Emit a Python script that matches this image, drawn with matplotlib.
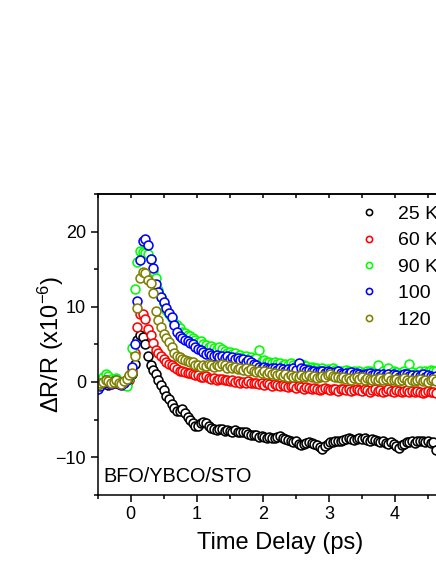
import matplotlib
matplotlib.use("Agg")
import matplotlib.pyplot as plt
from matplotlib.ticker import MultipleLocator

plt.rcParams['font.family'] = ['Liberation Sans', 'DejaVu Sans']
plt.rcParams['mathtext.default'] = 'regular'

time_delay = [
    -0.50, -0.46, -0.42, -0.38, -0.34, -0.30, -0.26, -0.22, -0.18, -0.14,
    -0.10, -0.06, -0.02, 0.02, 0.06, 0.10, 0.14, 0.18, 0.22, 0.26,
    0.30, 0.34, 0.38, 0.42, 0.46, 0.50, 0.54, 0.58, 0.62, 0.66,
    0.70, 0.74, 0.78, 0.82, 0.86, 0.90, 0.94, 0.98, 1.02, 1.06,
    1.10, 1.14, 1.18, 1.22, 1.26, 1.30, 1.34, 1.38, 1.42, 1.46,
    1.50, 1.54, 1.58, 1.62, 1.66, 1.70, 1.74, 1.78, 1.82, 1.86,
    1.90, 1.94, 1.98, 2.02, 2.06, 2.10, 2.14, 2.18, 2.22, 2.26,
    2.30, 2.34, 2.38, 2.42, 2.46, 2.50, 2.54, 2.58, 2.62, 2.66,
    2.70, 2.74, 2.78, 2.82, 2.86, 2.90, 2.94, 2.98, 3.02, 3.06,
    3.10, 3.14, 3.18, 3.22, 3.26, 3.30, 3.34, 3.38, 3.42, 3.46,
    3.50, 3.54, 3.58, 3.62, 3.66, 3.70, 3.74, 3.78, 3.82, 3.86,
    3.90, 3.94, 3.98, 4.02, 4.06, 4.10, 4.14, 4.18, 4.22, 4.26,
    4.30, 4.34, 4.38, 4.42, 4.46, 4.50, 4.54, 4.58, 4.62]

dr_25K = [
    -0.3, -0.1, 0.2, -0.2, -0.4, -0.1, 0.2, -0.2, -0.3, 0.0,
    -0.2, 0.1, 0.4, 1.0, 2.4, 5.6, 6.2, 6.0, 5.0, 3.4,
    2.2, 1.6, 1.0, 0.3, -0.4, -1.1, -1.9, -2.3, -2.9, -3.5,
    -3.8, -3.9, -3.6, -4.1, -4.7, -5.1, -5.5, -5.9, -5.8, -5.4,
    -5.3, -5.5, -5.8, -6.1, -6.3, -6.4, -6.2, -6.3, -6.5, -6.4,
    -6.5, -6.6, -6.4, -6.7, -6.6, -6.7, -6.6, -6.9, -7.0, -7.1,
    -7.1, -7.3, -7.2, -7.3, -7.4, -7.3, -7.5, -7.4, -7.3, -7.2,
    -7.4, -7.6, -7.7, -7.9, -8.0, -7.9, -8.2, -8.4, -8.3, -8.1,
    -8.0, -8.1, -8.2, -8.4, -8.6, -8.9, -8.5, -8.2, -8.0, -8.0,
    -7.9, -7.8, -7.9, -7.7, -7.6, -7.5, -7.6, -7.7, -7.6, -7.5,
    -7.6, -7.5, -7.7, -7.8, -7.6, -7.7, -7.9, -8.0, -7.9, -8.1,
    -8.2, -8.0, -8.3, -8.5, -8.8, -8.4, -8.2, -8.0, -8.0, -7.9,
    -8.1, -7.9, -7.8, -7.8, -8.0, -7.9, -8.1, -8.0, -9.0]

dr_60K = [
    -0.6, -0.4, -0.2, 0.1, -0.1, -0.3, -0.1, 0.2, 0.0, -0.2,
    -0.4, -0.1, 0.3, 1.5, 3.8, 7.3, 9.0, 9.1, 8.4, 7.0,
    6.3, 5.2, 4.3, 3.9, 3.5, 3.1, 2.7, 2.4, 2.2, 2.0,
    1.7, 1.5, 1.4, 1.3, 1.2, 1.2, 1.0, 0.9, 0.9, 0.7,
    0.6, 0.8, 0.5, 0.4, 0.5, 0.3, 0.4, 0.4, 0.2, 0.3,
    0.1, 0.2, 0.0, 0.1, -0.1, 0.0, -0.2, 0.1, -0.1, -0.2,
    -0.1, -0.3, -0.2, -0.4, -0.2, -0.3, -0.5, -0.3, -0.4, -0.6,
    -0.4, -0.5, -0.7, -0.5, -0.6, -0.8, -0.6, -0.7, -0.9, -0.7,
    -0.8, -1.0, -0.8, -0.9, -1.1, -0.9, -0.8, -1.0, -1.1, -0.9,
    -1.0, -1.2, -1.0, -0.9, -1.1, -1.0, -1.2, -1.1, -0.9, -1.1,
    -1.2, -1.0, -1.1, -1.3, -1.1, -1.0, -1.2, -1.1, -1.3, -1.2,
    -1.0, -1.2, -1.3, -1.1, -1.2, -1.4, -1.2, -1.1, -1.3, -1.2,
    -1.4, -1.2, -1.3, -1.5, -1.3, -1.2, -1.4, -1.3, -1.5]

dr_90K = [
    -0.8, 0.3, 0.6, 1.0, 0.8, 0.4, 0.2, 0.5, 0.1, -0.3,
    0.0, -0.6, 0.5, 4.5, 12.3, 16.0, 17.4, 17.3, 17.1, 17.0,
    16.3, 14.8, 13.8, 12.2, 11.3, 10.5, 9.6, 9.0, 8.5, 7.9,
    7.6, 7.2, 6.6, 6.5, 6.3, 6.1, 5.8, 5.6, 5.3, 5.4,
    5.0, 4.9, 4.7, 4.8, 4.5, 4.4, 4.7, 4.4, 4.1, 3.9,
    4.0, 3.7, 3.8, 3.5, 3.6, 3.3, 3.4, 3.1, 3.3, 3.0,
    3.2, 4.2, 2.8, 2.9, 2.6, 2.7, 2.5, 2.6, 2.4, 2.5,
    2.3, 2.4, 2.2, 2.5, 2.3, 2.1, 2.2, 2.4, 2.3, 2.1,
    1.9, 2.0, 1.8, 1.9, 1.7, 1.9, 1.6, 1.7, 1.5, 1.8,
    1.6, 1.4, 1.5, 1.3, 1.6, 1.4, 1.3, 1.5, 1.3, 1.4,
    1.2, 1.3, 1.4, 1.5, 1.2, 1.3, 2.2, 1.2, 1.4, 1.3,
    1.8, 1.2, 1.4, 1.3, 1.1, 1.3, 1.5, 1.2, 2.4, 1.3,
    1.1, 1.2, 1.4, 1.2, 1.5, 1.3, 1.6, 1.5, 1.4]

dr_100K = [
    -1.0, -0.6, -0.2, 0.2, 0.0, -0.3, 0.1, 0.3, 0.0, -0.4,
    -0.2, 0.3, 0.8, 2.0, 5.0, 10.8, 16.2, 18.8, 19.0, 18.2,
    16.4, 15.2, 13.0, 12.0, 11.3, 10.6, 9.8, 9.2, 8.6, 7.6,
    6.7, 6.1, 5.8, 5.6, 5.4, 5.2, 5.0, 4.7, 4.4, 4.2,
    4.0, 3.7, 3.9, 3.6, 3.4, 3.6, 3.3, 3.5, 3.2, 3.4,
    3.1, 3.3, 3.0, 3.2, 2.9, 3.0, 2.7, 2.9, 2.6, 2.4,
    2.2, 2.0, 1.8, 2.0, 1.9, 1.7, 1.9, 1.8, 1.6, 1.8,
    1.7, 1.5, 1.7, 1.6, 1.8, 1.6, 2.5, 1.9, 1.7, 1.5,
    1.6, 1.4, 1.5, 1.3, 1.5, 1.4, 1.2, 1.4, 1.3, 1.1,
    1.3, 1.4, 1.2, 1.0, 1.2, 1.1, 1.3, 1.0, 1.2, 1.1,
    0.9, 1.1, 1.0, 1.2, 0.9, 1.0, 1.1, 0.8, 1.0, 0.9,
    1.1, 0.8, 1.0, 0.9, 0.7, 0.9, 1.1, 1.0, 0.8, 0.9,
    0.7, 0.9, 0.8, 1.0, 0.7, 0.9, 0.8, 0.6, 0.8]

dr_120K = [
    -0.4, -0.2, 0.0, 0.3, 0.1, -0.2, 0.0, 0.2, -0.1, -0.3,
    0.1, 0.4, 0.9, 1.2, 3.5, 9.9, 13.8, 14.6, 14.5, 13.6,
    13.1, 11.8, 9.5, 8.2, 7.3, 6.4, 5.9, 5.3, 4.7, 3.9,
    3.5, 3.3, 3.1, 2.9, 2.8, 2.7, 2.6, 2.3, 2.2, 2.0,
    2.3, 2.1, 2.4, 2.2, 2.0, 2.3, 2.1, 2.4, 2.2, 1.9,
    2.1, 1.8, 2.0, 1.7, 1.9, 1.6, 1.8, 1.5, 1.7, 1.4,
    1.3, 1.5, 1.2, 1.4, 1.1, 1.3, 1.0, 1.2, 0.9, 1.1,
    0.8, 1.0, 0.7, 0.9, 0.6, 0.8, 0.7, 0.9, 0.6, 0.8,
    0.9, 0.6, 0.8, 0.5, 0.7, 0.8, 0.6, 0.9, 1.1, 0.8,
    0.6, 0.7, 0.5, 0.6, 0.4, 0.5, 0.3, 0.5, 0.6, 0.4,
    0.6, 0.3, 0.5, 0.4, 0.2, 0.4, 0.3, 0.5, 0.2, 0.4,
    0.6, 0.3, 0.2, 0.4, 0.1, 0.3, 0.5, 0.2, 0.0, 0.3,
    0.1, 0.2, 0.4, 0.1, 0.3, 0.0, 0.2, 0.4, 0.1]

series_labels = ["25 K", "60 K", "90 K", "100 K", "120 K"]
series_values = [dr_25K, dr_60K, dr_90K, dr_100K, dr_120K]
series_colors = ["#000000", "#ff0000", "#00ff00", "#0000ff", "#808000"]
sample_label = "BFO/YBCO/STO"

W, H = 436, 564
fig = plt.figure(figsize=(W / 100, H / 100), dpi=100)
ax_left, ax_right, ax_top, ax_bottom = 97.7, 461.0, 194.0, 494.7
ax = fig.add_axes([ax_left / W, 1 - ax_bottom / H,
                   (ax_right - ax_left) / W, (ax_bottom - ax_top) / H])

for vals, lab, col in zip(series_values, series_labels, series_colors):
    ax.plot(time_delay, vals, linestyle='none', marker='o', markersize=6.4,
            markerfacecolor='white', markeredgecolor=col, markeredgewidth=1.15,
            label=lab, clip_on=True)

ax.set_xlim(-0.5, 5.0)
ax.set_ylim(-15, 25)

ax.xaxis.set_major_locator(MultipleLocator(1))
ax.xaxis.set_minor_locator(MultipleLocator(0.5))
ax.yaxis.set_major_locator(MultipleLocator(10))
ax.yaxis.set_minor_locator(MultipleLocator(5))

ax.tick_params(which='both', direction='out', width=1.1, top=False, right=False,
               labelsize=13, colors='black')
ax.tick_params(which='major', length=5.0, pad=3.4)
ax.tick_params(which='minor', length=2.6)

for sp in ax.spines.values():
    sp.set_linewidth(1.1)

top = ax.secondary_xaxis('top')
top.xaxis.set_major_locator(MultipleLocator(0.5))
top.tick_params(which='major', direction='in', length=3.0, width=1.1,
                labeltop=False)
top.xaxis.set_minor_locator(MultipleLocator(100))
top.spines['top'].set_linewidth(1.1)

ax.set_xlabel("Time Delay (ps)", fontsize=17)
ax.set_ylabel("ΔR/R (x10$^{-6}$)", fontsize=17)
ax.xaxis.set_label_coords(((197 + 364) / 2 - ax_left) / (ax_right - ax_left),
                          -(532.0 - ax_bottom) / (ax_bottom - ax_top))
ax.yaxis.set_label_coords((66.0 - ax_left) / (ax_right - ax_left), 0.5)

ax.text(-0.41, -13.33, sample_label, fontsize=14.3, ha='left', va='baseline')

leg = ax.legend(loc='upper left', frameon=False, fontsize=14, markerscale=0.7,
                handlelength=1.0, handletextpad=1.0, labelspacing=0.45,
                borderpad=0, borderaxespad=0,
                bbox_to_anchor=(359.0 / W, 1 - 205.5 / H),
                bbox_transform=fig.transFigure)

fig.savefig("out.png", dpi=100)
